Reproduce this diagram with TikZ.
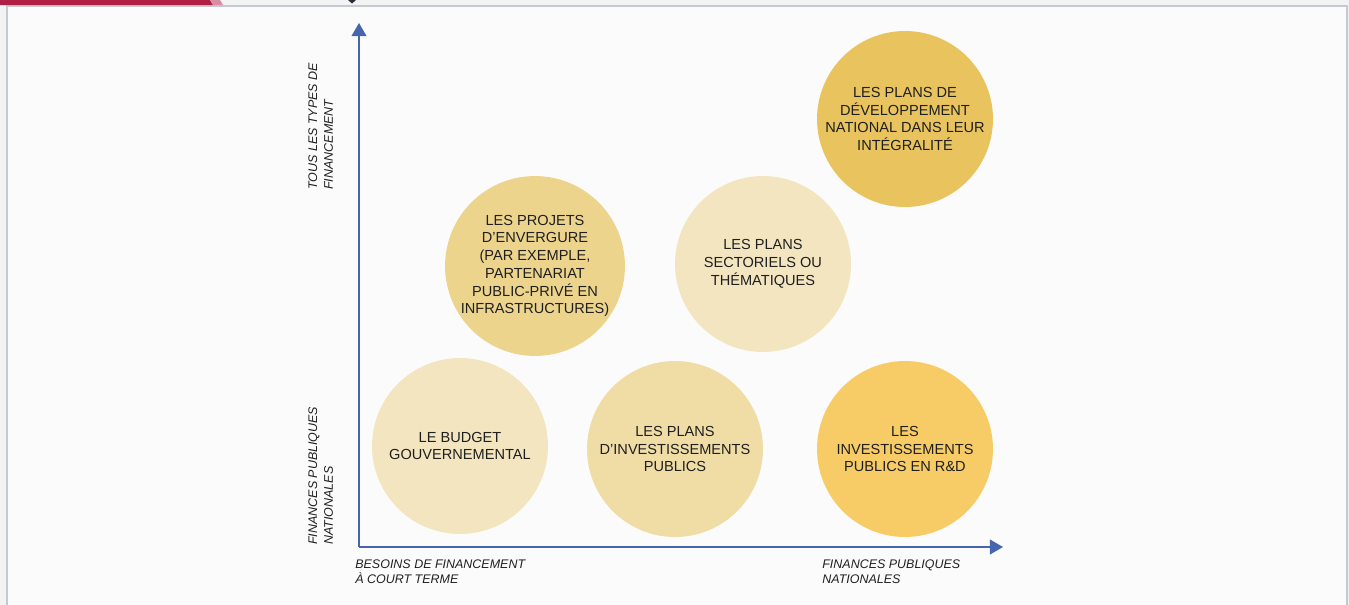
\documentclass[tikz,border=0pt]{standalone}
\usepackage{fontspec}
\setmainfont{Liberation Sans}
\usepackage{tikz}
\usetikzlibrary{arrows.meta,positioning}
\usetikzlibrary{shapes}

\definecolor{pagegrey}{HTML}{F3F3F3}
\definecolor{panelfill}{HTML}{FBFBFB}
\definecolor{panelline}{HTML}{C5CAD0}
\definecolor{axisblue}{HTML}{4566AD}
\definecolor{bandred}{HTML}{B01E45}
\definecolor{bandpink}{HTML}{D98EA6}
\definecolor{txt}{HTML}{1F1F1F}
\definecolor{goldA}{HTML}{E8C35E}
\definecolor{goldB}{HTML}{EDD48C}
\definecolor{goldC}{HTML}{F3E5BF}
\definecolor{goldD}{HTML}{F0DCA5}
\definecolor{goldE}{HTML}{F7CC66}

\begin{document}
\begin{tikzpicture}[x=0.02cm,y=-0.02cm,
  bubble/.style={circle,minimum size=3.52cm,inner sep=0pt,align=center,
    text=txt,font=\fontsize{8.3}{10.1}\selectfont},
  axlabel/.style={inner sep=0pt,align=left,text=txt,
    font=\fontsize{7.1}{9}\selectfont\itshape},
  axis/.style={draw=axisblue,line width=0.7pt,-{Triangle[width=8.5pt,length=7.5pt]}}]
  \useasboundingbox (0,0) rectangle (1349,605);

  % page and panel
  \fill[pagegrey] (0,0) rectangle (1349,605);
  \filldraw[fill=panelfill,draw=panelline,line width=0.9pt] (7,6) rectangle (1347,615);
  \fill[bandred] (0,0) -- (210,0) -- (213,5) -- (0,5) -- cycle;
  \fill[bandpink] (210,0) -- (220,0) -- (223,5) -- (213,5) -- cycle;
  \fill[txt!80!axisblue] (348,0) -- (356,0) -- (352,3.5) -- cycle;

  % bubbles
  \node[bubble,fill=goldA] (dev)  at (905,119) {LES PLANS DE\\D\'EVELOPPEMENT\\NATIONAL DANS LEUR\\INT\'EGRALIT\'E};
  \node[bubble,fill=goldB] (ppp)  at (535,266) {LES PROJETS\\D’ENVERGURE\\(PAR EXEMPLE,\\PARTENARIAT\\PUBLIC-PRIV\'E EN\\INFRASTRUCTURES)};
  \node[bubble,fill=goldC] (sect) at (763,264) {LES PLANS\\SECTORIELS OU\\TH\'EMATIQUES};
  \node[bubble,fill=goldC] (budg) at (460,446) {LE BUDGET\\GOUVERNEMENTAL};
  \node[bubble,fill=goldD] (pip)  at (675,449) {LES PLANS\\D’INVESTISSEMENTS\\PUBLICS};
  \node[bubble,fill=goldE] (rd)   at (905,449) {LES\\INVESTISSEMENTS\\PUBLICS EN R\&D};

  % axes
  \coordinate (o) at (359,547);
  \coordinate (ytop) at (359,23);
  \coordinate (xend) at (1003,547);
  \draw[axis] (o) -- (ytop);
  \draw[axis] (o) -- (xend);

  % axis labels
  \node[axlabel,rotate=90,anchor=north west] (yhi) at (308,190) {TOUS LES TYPES DE\\FINANCEMENT};
  \node[axlabel,rotate=90,anchor=north west] (ylo) at (308,545) {FINANCES PUBLIQUES\\NATIONALES};
  \node[axlabel,anchor=north west] (xlo) at (355,559) {BESOINS DE FINANCEMENT\\\`A COURT TERME};
  \node[axlabel,anchor=north west] (xhi) at (822,559) {FINANCES PUBLIQUES\\NATIONALES};
\end{tikzpicture}
\end{document}
